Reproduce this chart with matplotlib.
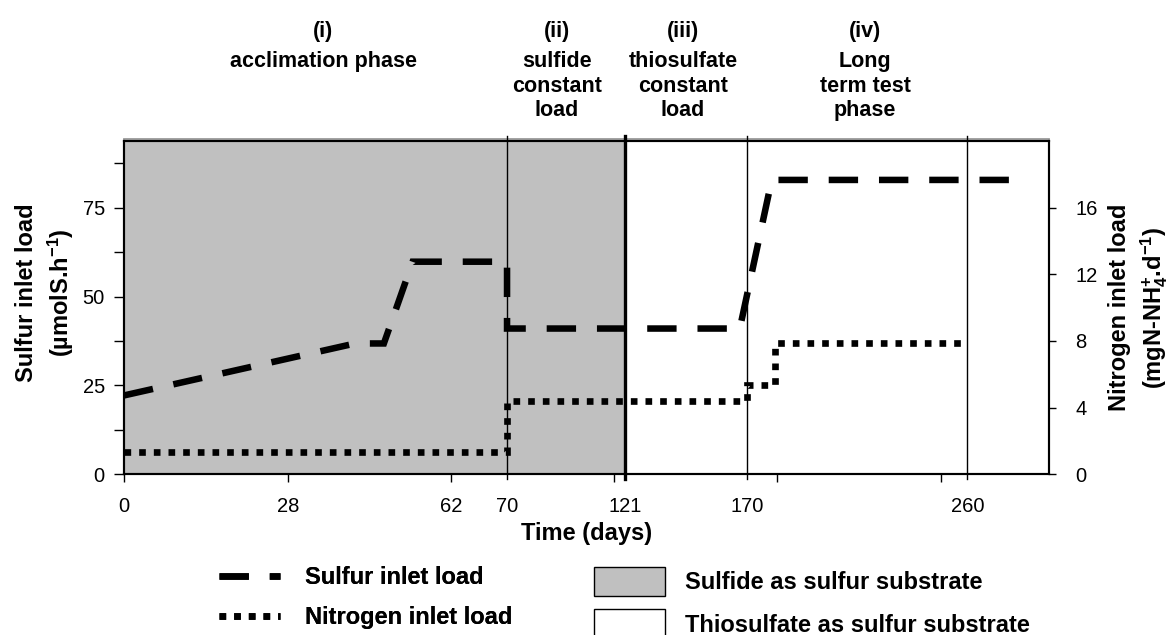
import numpy as np
import matplotlib
matplotlib.use("Agg")
import matplotlib.pyplot as plt
from matplotlib.lines import Line2D
from matplotlib.patches import Patch

# ---------------- data ----------------
sulfur_days = [0, 42, 48, 54, 70, 70, 167, 180, 280]
sulfur_load = [22.2, 36.8, 36.8, 59.8, 59.8, 41.0, 41.0, 82.8, 82.8]

nitrogen_days = [0, 70, 70, 170, 170, 181.5, 181.5, 260]
nitrogen_load = [1.31, 1.31, 4.38, 4.38, 5.37, 5.37, 7.88, 7.88]

phase_bounds = [70, 121, 170, 260]
sulfide_period = [0, 121]

time_tick_days = [0, 28, 62, 70, 121, 170, 260]
time_tick_labels = ["0", "28", "62", "70", "121", "170", "260"]

left_ticks = [0, 25, 50, 75]
left_minor = [12.5, 37.5, 62.5, 87.5]
right_ticks = [0, 4, 8, 12, 16]

phase_titles = ["(i)", "(ii)", "(iii)", "(iv)"]
phase_names = [["acclimation phase"],
               ["sulfide", "constant", "load"],
               ["thiosulfate", "constant", "load"],
               ["Long", "term test", "phase"]]

# ------------- layout (non-linear time axis of the original) -------------
axis_days = [0, 28, 62, 70, 121, 170, 260, 293.4]
axis_frac = [0, 0.1770, 0.3533, 0.4139, 0.5420, 0.6737, 0.9117, 1.0]


def fwd(d):
    return np.interp(np.asarray(d, float), axis_days, axis_frac)


def inv(p):
    return np.interp(np.asarray(p, float), axis_frac, axis_days)


W, H = 1170, 635


def fx(px):
    return px / W


def fy(py):
    return 1 - py / H


plt.rcParams["font.family"] = ["Liberation Sans", "DejaVu Sans"]
plt.rcParams["mathtext.default"] = "regular"

fig = plt.figure(figsize=(W / 100, H / 100), dpi=100)
ax = fig.add_axes([fx(124.3), fy(474.3), fx(1049) - fx(124.3), fy(141) - fy(474.3)])
ax.set_xscale("function", functions=(fwd, inv))
ax.set_xlim(axis_days[0], axis_days[-1])
ax.set_ylim(0, 93.75)

# sulfide period shading
ax.axvspan(sulfide_period[0], sulfide_period[1], color="#C0C0C0", lw=0, zorder=0)

# phase boundaries
for d, lw in zip(phase_bounds, [1.0, 2.4, 1.0, 1.0]):
    ax.axvline(d, ymin=-0.015, ymax=1.015, color="black", lw=lw, clip_on=False, zorder=2)

dash_style = (0, (4.5, 3.2))
dot_style = (0, (1.0, 1.2))

ax.plot(sulfur_days, sulfur_load, color="black", lw=4.7, linestyle=dash_style,
        dash_capstyle="butt", dash_joinstyle="miter", zorder=4)

ax2 = ax.twinx()
ax2.set_ylim(0, 20)
ax2.plot(nitrogen_days, nitrogen_load, color="black", lw=4.8, linestyle=dot_style,
         dash_capstyle="butt", dash_joinstyle="miter", zorder=4)

# gray shadow line above the top frame
ax.plot([0, 1], [1.007, 1.007], transform=ax.transAxes, color="#9a9a9a", lw=1.3,
        clip_on=False, zorder=1)

for a in (ax, ax2):
    for s in a.spines.values():
        s.set_linewidth(1.5)
        s.set_color("black")

TICK_FS = 14.5
LAB_FS = 17

# x ticks
ax.set_xticks(time_tick_days, time_tick_labels)
ax.set_xticks(inv(np.arange(6) * 0.17659), minor=True)
ax.xaxis.remove_overlapping_locs = False
ax.tick_params(axis="x", which="major", length=0, pad=16.5, labelsize=TICK_FS)
ax.tick_params(axis="x", which="minor", length=5.5, width=1.0, direction="out")

# left y
ax.set_yticks(left_ticks)
ax.set_yticks(left_minor, minor=True)
ax.tick_params(axis="y", which="both", length=7, width=1.0, direction="out")
ax.tick_params(axis="y", which="major", pad=7, labelsize=TICK_FS)

# right y
ax2.set_yticks(right_ticks)
ax2.tick_params(axis="y", which="major", length=5, width=1.0, direction="out",
                pad=14, labelsize=TICK_FS)

lab_font = dict(fontsize=LAB_FS, fontweight="bold")
ax.set_xlabel("Time (days)", **lab_font, va="center")
ax.xaxis.set_label_coords(0.5, -0.178)
ax.set_ylabel("Sulfur inlet load\n(µmolS.h$^{-1}$)", **lab_font, va="center",
              linespacing=1.35)
ax.yaxis.set_label_coords(-0.0849, 0.544)
ax2.set_ylabel("Nitrogen inlet load\n(mgN-NH$_4^{+}$.d$^{-1}$)", **lab_font,
               va="center", rotation=90, linespacing=1.3)
ax2.yaxis.set_label_coords(1.0975, 0.5)

# phase labels
col_x = [323, 557, 683, 865]
for x, t, names in zip(col_x, phase_titles, phase_names):
    fig.text(fx(x), fy(37), t, ha="center", va="baseline", fontsize=15.5,
             fontweight="bold")
    for i, line in enumerate(names):
        fig.text(fx(x), fy(67 + 24.5 * i), line, ha="center", va="baseline",
                 fontsize=15.5, fontweight="bold")

# legends
fs_px = LAB_FS * 100 / 72
line_handles = [
    Line2D([], [], color="black", lw=4.7, linestyle=dash_style, dash_capstyle="butt"),
    Line2D([], [], color="black", lw=4.8, linestyle=dot_style, dash_capstyle="butt"),
]
leg1 = fig.legend(line_handles, ["Sulfur inlet load", "Nitrogen inlet load"],
                  loc="center left", bbox_to_anchor=(fx(219), fy(597.5)),
                  frameon=False, borderpad=0, borderaxespad=0,
                  handlelength=61 / fs_px, handletextpad=25 / fs_px,
                  labelspacing=0.72, prop=dict(weight="bold", size=LAB_FS))

patch_handles = [
    Patch(facecolor="#C0C0C0", edgecolor="black", lw=1.0),
    Patch(facecolor="white", edgecolor="black", lw=1.0),
]
leg2 = fig.legend(patch_handles, ["Sulfide as sulfur substrate",
                                  "Thiosulfate as sulfur substrate"],
                  loc="center left", bbox_to_anchor=(fx(594), fy(602.75)),
                  frameon=False, borderpad=0, borderaxespad=0,
                  handlelength=71 / fs_px, handleheight=1.514,
                  handletextpad=20 / fs_px, labelspacing=0.57,
                  prop=dict(weight="bold", size=LAB_FS))
fig.add_artist(leg1)

fig.savefig("out.png", dpi=100)
